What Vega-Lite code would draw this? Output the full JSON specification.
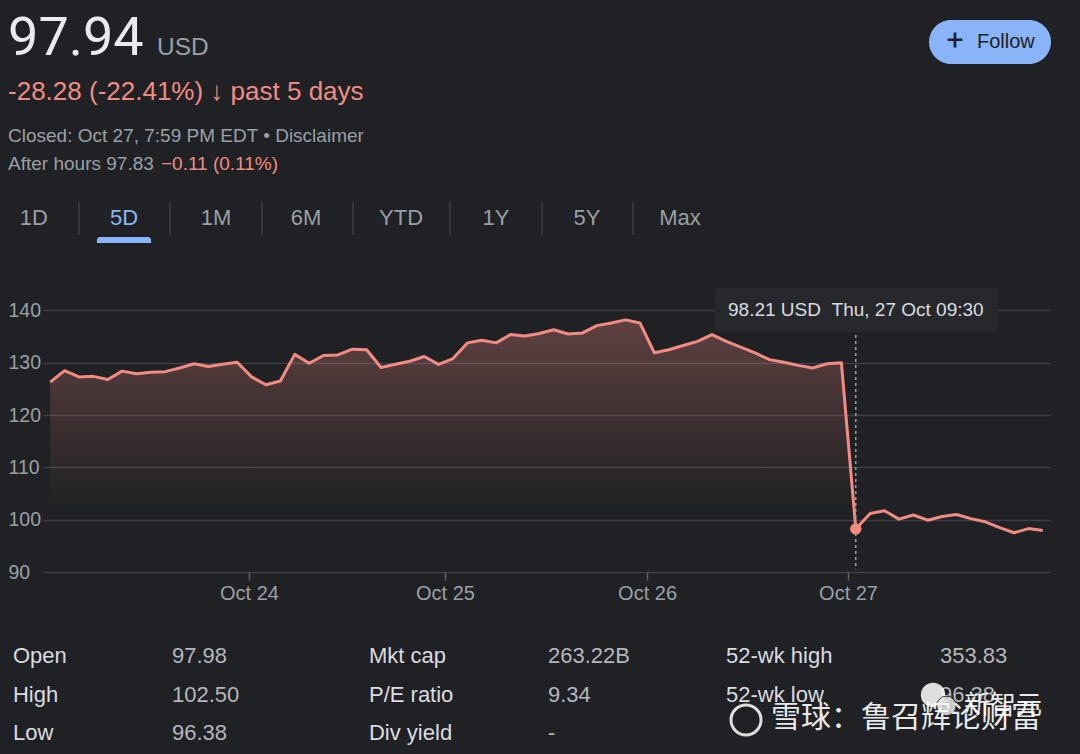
{
  "$schema": "https://vega.github.io/schema/vega-lite/v6.json",
  "autosize": {"type": "none"},
  "padding": {"left": 43, "top": 300, "right": 30, "bottom": 182},
  "width": 1007,
  "height": 272,
  "background": "#202124",
  "config": {"view": {"stroke": null}, "font": "Liberation Sans"},
  "data": {"values": [
    {"slot": 0, "price": 126.3}, {"slot": 1, "price": 128.5}, {"slot": 2, "price": 127.3}, {"slot": 3, "price": 127.4},
    {"slot": 4, "price": 126.8}, {"slot": 5, "price": 128.4}, {"slot": 6, "price": 127.9}, {"slot": 7, "price": 128.2},
    {"slot": 8, "price": 128.3}, {"slot": 9, "price": 129.0}, {"slot": 10, "price": 129.8}, {"slot": 11, "price": 129.3},
    {"slot": 12, "price": 129.7}, {"slot": 13, "price": 130.1}, {"slot": 14, "price": 127.3}, {"slot": 15, "price": 125.8},
    {"slot": 16, "price": 126.5}, {"slot": 17, "price": 131.6}, {"slot": 18, "price": 129.9}, {"slot": 19, "price": 131.4},
    {"slot": 20, "price": 131.5}, {"slot": 21, "price": 132.6}, {"slot": 22, "price": 132.5}, {"slot": 23, "price": 129.1},
    {"slot": 24, "price": 129.7}, {"slot": 25, "price": 130.3}, {"slot": 26, "price": 131.2}, {"slot": 27, "price": 129.7},
    {"slot": 28, "price": 130.8}, {"slot": 29, "price": 133.8}, {"slot": 30, "price": 134.3}, {"slot": 31, "price": 133.8},
    {"slot": 32, "price": 135.4}, {"slot": 33, "price": 135.1}, {"slot": 34, "price": 135.6}, {"slot": 35, "price": 136.3},
    {"slot": 36, "price": 135.5}, {"slot": 37, "price": 135.7}, {"slot": 38, "price": 137.1}, {"slot": 39, "price": 137.6},
    {"slot": 40, "price": 138.2}, {"slot": 41, "price": 137.6}, {"slot": 42, "price": 131.9}, {"slot": 43, "price": 132.5},
    {"slot": 44, "price": 133.3}, {"slot": 45, "price": 134.1}, {"slot": 46, "price": 135.4}, {"slot": 47, "price": 134.1},
    {"slot": 48, "price": 133.0}, {"slot": 49, "price": 131.9}, {"slot": 50, "price": 130.6}, {"slot": 51, "price": 130.1},
    {"slot": 52, "price": 129.5}, {"slot": 53, "price": 129.0}, {"slot": 54, "price": 129.8}, {"slot": 55, "price": 130.0},
    {"slot": 56, "price": 98.21}, {"slot": 57, "price": 101.2}, {"slot": 58, "price": 101.7}, {"slot": 59, "price": 100.1},
    {"slot": 60, "price": 100.9}, {"slot": 61, "price": 99.9}, {"slot": 62, "price": 100.6}, {"slot": 63, "price": 101.0},
    {"slot": 64, "price": 100.2}, {"slot": 65, "price": 99.6}, {"slot": 66, "price": 98.5}, {"slot": 67, "price": 97.5},
    {"slot": 68, "price": 98.3}, {"slot": 69, "price": 97.94}
  ]},
  "layer": [
    {
      "mark": {"type": "area", "color": {"gradient": "linear", "x1": 0, "y1": 0, "x2": 0, "y2": 1,
        "stops": [{"offset": 0, "color": "rgba(242,139,130,0.30)"}, {"offset": 0.74, "color": "rgba(242,139,130,0)"}]}},
      "encoding": {
        "x": {"field": "slot", "type": "quantitative",
          "scale": {"domain": [-0.5, 69.5], "nice": false, "zero": false},
          "axis": {"values": [13.82, 27.44, 41.49, 55.46],
            "labelExpr": "datum.value < 20 ? 'Oct 24' : datum.value < 35 ? 'Oct 25' : datum.value < 48 ? 'Oct 26' : 'Oct 27'",
            "grid": false, "domain": false, "ticks": true, "tickSize": 8, "tickColor": "#5f6368", "tickWidth": 1.5,
            "labelColor": "#9aa0a6", "labelFontSize": 20, "labelFont": "Liberation Sans", "labelPadding": 3, "title": null}},
        "y": {"field": "price", "type": "quantitative",
          "scale": {"domain": [90, 142], "nice": false, "zero": false},
          "axis": {"values": [90, 100, 110, 120, 130, 140], "grid": true, "gridColor": "#3c4043", "gridWidth": 1.5,
            "domain": false, "ticks": false, "tickSize": 0, "labelAlign": "left", "labelPadding": 35,
            "labelColor": "#9aa0a6", "labelFontSize": 19.5, "labelFont": "Liberation Sans", "title": null}},
        "y2": {"datum": 90}
      }
    },
    {
      "mark": {"type": "line", "color": "#f28b82", "strokeWidth": 3, "strokeJoin": "round"},
      "encoding": {"x": {"field": "slot", "type": "quantitative"}, "y": {"field": "price", "type": "quantitative"}}
    },
    {
      "data": {"values": [{"slot": 56}]},
      "mark": {"type": "rule", "color": "#9aa0a6", "strokeWidth": 1.5, "strokeDash": [3, 3]},
      "encoding": {"x": {"field": "slot", "type": "quantitative"}, "y": {"datum": 135.3}, "y2": {"datum": 90.5}}
    },
    {
      "transform": [{"filter": "datum.slot == 56"}],
      "mark": {"type": "point", "filled": true, "color": "#f28b82", "size": 130, "opacity": 1},
      "encoding": {"x": {"field": "slot", "type": "quantitative"}, "y": {"field": "price", "type": "quantitative"}}
    },
    {
      "data": {"values": [{"t": "tooltip"}]},
      "mark": {"type": "rect", "color": "#27282c", "cornerRadius": 4},
      "encoding": {"x": {"datum": 46.21}, "x2": {"datum": 65.88}, "y": {"datum": 144.29}, "y2": {"datum": 135.88}}
    },
    {
      "data": {"values": [{"t": "98.21 USD\u00a0\u00a0Thu, 27 Oct 09:30"}]},
      "mark": {"type": "text", "align": "left", "baseline": "middle", "fontSize": 19, "color": "#dadce0"},
      "encoding": {"x": {"datum": 47.12}, "y": {"datum": 140.09}, "text": {"field": "t"}}
    },
    {
      "data": {"values": [{"t": "97.94"}]},
      "mark": {"type": "text", "align": "left", "baseline": "alphabetic", "fontSize": 54, "font": "Roboto", "color": "#e8eaed"},
      "encoding": {"x": {"datum": -2.93}, "y": {"datum": 188.84}, "text": {"field": "t"}}
    },
    {
      "data": {"values": [{"t": "USD"}]},
      "mark": {"type": "text", "align": "left", "baseline": "alphabetic", "fontSize": 24.5, "color": "#9aa0a6"},
      "encoding": {"x": {"datum": 7.42}, "y": {"datum": 188.84}, "text": {"field": "t"}}
    },
    {
      "data": {"values": [{"t": "-28.28 (-22.41%) \u2193 past 5 days"}]},
      "mark": {"type": "text", "align": "left", "baseline": "alphabetic", "fontSize": 26, "color": "#f28b82"},
      "encoding": {"x": {"datum": -2.93}, "y": {"datum": 180.24}, "text": {"field": "t"}}
    },
    {
      "data": {"values": [{"t": "Closed: Oct 27, 7:59 PM EDT \u2022 Disclaimer"}]},
      "mark": {"type": "text", "align": "left", "baseline": "alphabetic", "fontSize": 19, "color": "#9aa0a6"},
      "encoding": {"x": {"datum": -2.93}, "y": {"datum": 172.21}, "text": {"field": "t"}}
    },
    {
      "data": {"values": [{"t": "After hours 97.83"}]},
      "mark": {"type": "text", "align": "left", "baseline": "alphabetic", "fontSize": 19, "color": "#9aa0a6"},
      "encoding": {"x": {"datum": -2.93}, "y": {"datum": 166.85}, "text": {"field": "t"}}
    },
    {
      "data": {"values": [{"t": "\u22120.11 (0.11%)"}]},
      "mark": {"type": "text", "align": "left", "baseline": "alphabetic", "fontSize": 19, "color": "#f28b82"},
      "encoding": {"x": {"datum": 7.70}, "y": {"datum": 166.85}, "text": {"field": "t"}}
    },
    {"data": {"values": [{"t": "1D"}]}, "mark": {"type": "text", "align": "center", "baseline": "middle", "fontSize": 22, "color": "#9aa0a6"},
      "encoding": {"x": {"datum": -1.13}, "y": {"datum": 157.68}, "text": {"field": "t"}}},
    {"data": {"values": [{"t": "5D"}]}, "mark": {"type": "text", "align": "center", "baseline": "middle", "fontSize": 22, "color": "#8ab4f8"},
      "encoding": {"x": {"datum": 5.13}, "y": {"datum": 157.68}, "text": {"field": "t"}}},
    {"data": {"values": [{"t": "1M"}]}, "mark": {"type": "text", "align": "center", "baseline": "middle", "fontSize": 22, "color": "#9aa0a6"},
      "encoding": {"x": {"datum": 11.53}, "y": {"datum": 157.68}, "text": {"field": "t"}}},
    {"data": {"values": [{"t": "6M"}]}, "mark": {"type": "text", "align": "center", "baseline": "middle", "fontSize": 22, "color": "#9aa0a6"},
      "encoding": {"x": {"datum": 17.78}, "y": {"datum": 157.68}, "text": {"field": "t"}}},
    {"data": {"values": [{"t": "YTD"}]}, "mark": {"type": "text", "align": "center", "baseline": "middle", "fontSize": 22, "color": "#9aa0a6"},
      "encoding": {"x": {"datum": 24.39}, "y": {"datum": 157.68}, "text": {"field": "t"}}},
    {"data": {"values": [{"t": "1Y"}]}, "mark": {"type": "text", "align": "center", "baseline": "middle", "fontSize": 22, "color": "#9aa0a6"},
      "encoding": {"x": {"datum": 30.99}, "y": {"datum": 157.68}, "text": {"field": "t"}}},
    {"data": {"values": [{"t": "5Y"}]}, "mark": {"type": "text", "align": "center", "baseline": "middle", "fontSize": 22, "color": "#9aa0a6"},
      "encoding": {"x": {"datum": 37.31}, "y": {"datum": 157.68}, "text": {"field": "t"}}},
    {"data": {"values": [{"t": "Max"}]}, "mark": {"type": "text", "align": "center", "baseline": "middle", "fontSize": 22, "color": "#9aa0a6"},
      "encoding": {"x": {"datum": 43.78}, "y": {"datum": 157.68}, "text": {"field": "t"}}},
    {"data": {"values": [{"sep": 1}]}, "mark": {"type": "rule", "color": "#3c4043", "strokeWidth": 1.5},
      "encoding": {"x": {"datum": 2.0}, "y": {"datum": 160.73}, "y2": {"datum": 154.43}}},
    {"data": {"values": [{"sep": 2}]}, "mark": {"type": "rule", "color": "#3c4043", "strokeWidth": 1.5},
      "encoding": {"x": {"datum": 8.33}, "y": {"datum": 160.73}, "y2": {"datum": 154.43}}},
    {"data": {"values": [{"sep": 3}]}, "mark": {"type": "rule", "color": "#3c4043", "strokeWidth": 1.5},
      "encoding": {"x": {"datum": 14.72}, "y": {"datum": 160.73}, "y2": {"datum": 154.43}}},
    {"data": {"values": [{"sep": 4}]}, "mark": {"type": "rule", "color": "#3c4043", "strokeWidth": 1.5},
      "encoding": {"x": {"datum": 21.05}, "y": {"datum": 160.73}, "y2": {"datum": 154.43}}},
    {"data": {"values": [{"sep": 5}]}, "mark": {"type": "rule", "color": "#3c4043", "strokeWidth": 1.5},
      "encoding": {"x": {"datum": 27.79}, "y": {"datum": 160.73}, "y2": {"datum": 154.43}}},
    {"data": {"values": [{"sep": 6}]}, "mark": {"type": "rule", "color": "#3c4043", "strokeWidth": 1.5},
      "encoding": {"x": {"datum": 34.19}, "y": {"datum": 160.73}, "y2": {"datum": 154.43}}},
    {"data": {"values": [{"sep": 7}]}, "mark": {"type": "rule", "color": "#3c4043", "strokeWidth": 1.5},
      "encoding": {"x": {"datum": 40.51}, "y": {"datum": 160.73}, "y2": {"datum": 154.43}}},
    {"data": {"values": [{"tab": "5D"}]}, "mark": {"type": "rect", "color": "#8ab4f8", "cornerRadiusTopLeft": 3, "cornerRadiusTopRight": 3},
      "encoding": {"x": {"datum": 3.25}, "x2": {"datum": 7.01}, "y": {"datum": 154.04}, "y2": {"datum": 152.90}}},
    {"data": {"values": [{"btn": "Follow"}]}, "mark": {"type": "rect", "color": "#8ab4f8", "cornerRadius": 22},
      "encoding": {"x": {"datum": 61.09}, "x2": {"datum": 69.57}, "y": {"datum": 195.53}, "y2": {"datum": 187.12}}},
    {"data": {"values": [{"t": "+"}]}, "mark": {"type": "text", "align": "center", "baseline": "middle", "fontSize": 30, "font": "Roboto", "color": "#202124"},
      "encoding": {"x": {"datum": 62.89}, "y": {"datum": 191.5}, "text": {"field": "t"}}},
    {"data": {"values": [{"t": "Follow"}]}, "mark": {"type": "text", "align": "left", "baseline": "middle", "fontSize": 20, "color": "#202124"},
      "encoding": {"x": {"datum": 64.42}, "y": {"datum": 191.32}, "text": {"field": "t"}}},
    {"data": {"values": [{"t": "Open\nHigh\nLow"}]}, "mark": {"type": "text", "align": "left", "baseline": "middle", "fontSize": 22, "lineHeight": 38.5, "lineBreak": "\n", "color": "#dadce0"},
      "encoding": {"x": {"datum": -2.59}, "y": {"datum": 73.94}, "text": {"field": "t"}}},
    {"data": {"values": [{"t": "97.98\n102.50\n96.38"}]}, "mark": {"type": "text", "align": "left", "baseline": "middle", "fontSize": 22, "lineHeight": 38.5, "lineBreak": "\n", "color": "#b4b7bb"},
      "encoding": {"x": {"datum": 8.47}, "y": {"datum": 73.94}, "text": {"field": "t"}}},
    {"data": {"values": [{"t": "Mkt cap\nP/E ratio\nDiv yield"}]}, "mark": {"type": "text", "align": "left", "baseline": "middle", "fontSize": 22, "lineHeight": 38.5, "lineBreak": "\n", "color": "#dadce0"},
      "encoding": {"x": {"datum": 22.16}, "y": {"datum": 73.94}, "text": {"field": "t"}}},
    {"data": {"values": [{"t": "263.22B\n9.34\n-"}]}, "mark": {"type": "text", "align": "left", "baseline": "middle", "fontSize": 22, "lineHeight": 38.5, "lineBreak": "\n", "color": "#b4b7bb"},
      "encoding": {"x": {"datum": 34.6}, "y": {"datum": 73.94}, "text": {"field": "t"}}},
    {"data": {"values": [{"t": "52-wk high\n52-wk low"}]}, "mark": {"type": "text", "align": "left", "baseline": "middle", "fontSize": 22, "lineHeight": 38.5, "lineBreak": "\n", "color": "#dadce0"},
      "encoding": {"x": {"datum": 46.98}, "y": {"datum": 73.94}, "text": {"field": "t"}}},
    {"data": {"values": [{"t": "353.83\n96.38"}]}, "mark": {"type": "text", "align": "left", "baseline": "middle", "fontSize": 22, "lineHeight": 38.5, "lineBreak": "\n", "color": "#b4b7bb"},
      "encoding": {"x": {"datum": 61.85}, "y": {"datum": 73.94}, "text": {"field": "t"}}},
    {"data": {"values": [{"icon": "xueqiu"}]}, "mark": {"type": "point", "shape": "circle", "filled": false, "stroke": "#ffffff", "strokeWidth": 3, "size": 900, "opacity": 0.85},
      "encoding": {"x": {"datum": 48.37}, "y": {"datum": 61.71}}},
    {"data": {"values": [{"icon": "wechat"}]}, "mark": {"type": "point", "shape": "circle", "filled": true, "color": "#ffffff", "size": 600, "opacity": 0.85},
      "encoding": {"x": {"datum": 61.37}, "y": {"datum": 66.5}}},
    {"data": {"values": [{"icon": "wechat2"}]}, "mark": {"type": "point", "shape": "circle", "filled": true, "color": "#e8e8e8", "size": 380, "opacity": 0.85, "stroke": "#202124", "strokeWidth": 1},
      "encoding": {"x": {"datum": 62.3}, "y": {"datum": 64.4}}},
    {"data": {"values": [{"t": "新智元"}]}, "mark": {"type": "text", "align": "left", "baseline": "middle", "fontSize": 26, "font": "Noto Sans CJK SC", "color": "#ffffff", "opacity": 0.9},
      "encoding": {"x": {"datum": 63.52}, "y": {"datum": 64.4}, "text": {"field": "t"}}},
    {"data": {"values": [{"t": "雪球：鲁召辉论财富"}]}, "mark": {"type": "text", "align": "left", "baseline": "middle", "fontSize": 30, "font": "Noto Sans CJK SC", "color": "#ffffff", "opacity": 0.9},
      "encoding": {"x": {"datum": 50.1}, "y": {"datum": 62.09}, "text": {"field": "t"}}}
  ]
}
